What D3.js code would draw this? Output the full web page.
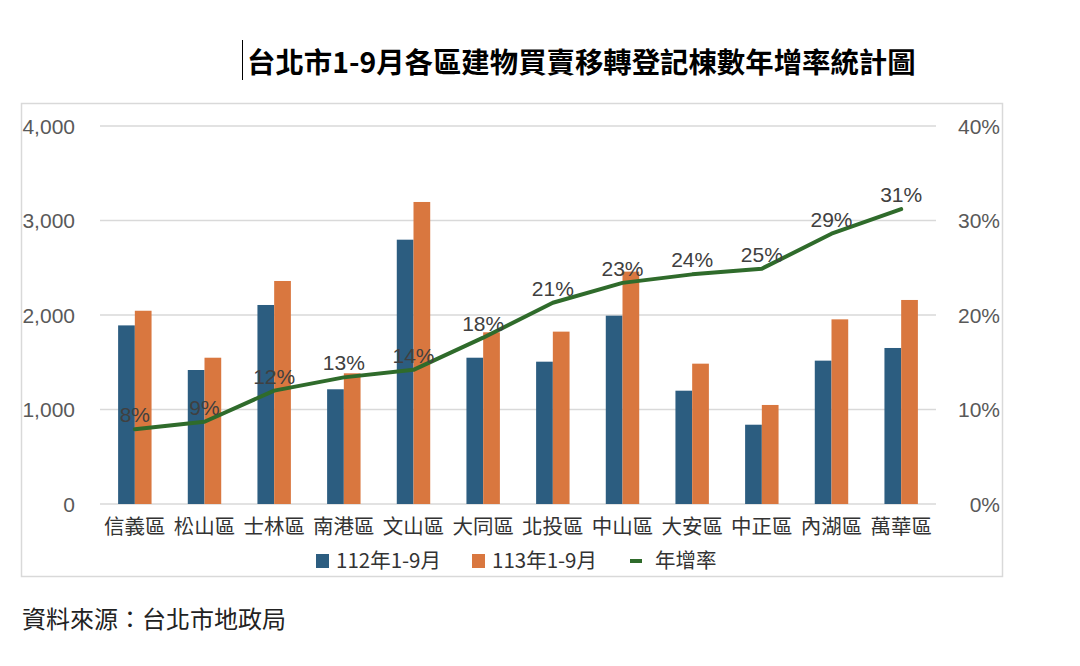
<!DOCTYPE html>
<html lang="zh-Hant">
<head>
  <meta charset="UTF-8">
  <title>台北市1-9月各區建物買賣移轉登記棟數年增率統計圖</title>
  <script src="https://d3js.org/d3.v7.min.js"></script>
  <style>
    body {
      margin: 0;
      padding: 0;
      background: #fff;
      font-family: "Noto Sans CJK TC", "Noto Sans", sans-serif;
    }
    .tick-label {
      font-family: "Liberation Sans", Arial, sans-serif;
      font-size: 21px;
      fill: #595959;
    }
    .cat-label {
      font-size: 20.5px;
      fill: #333;
    }
    .rate-label {
      font-family: "Liberation Sans", Arial, sans-serif;
      font-size: 21px;
      fill: #404040;
      text-anchor: middle;
    }
  </style>
</head>
<body>
  <svg id="chart" width="1080" height="666"></svg>

  <script>
    const districts = ["信義區", "松山區", "士林區", "南港區", "文山區", "大同區",
                       "北投區", "中山區", "大安區", "中正區", "內湖區", "萬華區"];
    const sales112 = [1890, 1418, 2106, 1214, 2797, 1548, 1506, 1993, 1199, 839, 1517, 1651];
    const sales113 = [2045, 1548, 2360, 1383, 3196, 1817, 1824, 2459, 1485, 1048, 1954, 2159];
    const growth = [7.9, 8.7, 12.0, 13.4, 14.2, 17.6, 21.3, 23.4, 24.3, 24.9, 28.6, 31.2];
    const leftTicks = [0, 1000, 2000, 3000, 4000];
    const rightTicks = [0, 10, 20, 30, 40];
    const seriesNames = ["112年1-9月", "113年1-9月", "年增率"];

    const blue = "#2c5d80";
    const orange = "#d9773f";
    const green = "#2f6b2b";

    const svg = d3.select("#chart");

    // title + the stray cursor line in front of it
    svg.append("line")
      .attr("x1", 242.5).attr("x2", 242.5)
      .attr("y1", 40).attr("y2", 80)
      .attr("stroke", "#000").attr("stroke-width", 1);
    svg.append("text")
      .attr("x", 247).attr("y", 73)
      .attr("font-size", 28.4).attr("font-weight", "bold")
      .attr("fill", "#000")
      .text("台北市1-9月各區建物買賣移轉登記棟數年增率統計圖");

    // chart frame
    svg.append("rect")
      .attr("x", 21.5).attr("y", 103.5)
      .attr("width", 981).attr("height", 473)
      .attr("fill", "none").attr("stroke", "#d9d9d9").attr("stroke-width", 1.5);

    const plotL = 100, plotR = 936, plotT = 126, plotB = 504;

    const x = d3.scaleBand().domain(districts).range([plotL, plotR]);
    const x1 = d3.scaleBand().domain([0, 1])
      .range([x.bandwidth() * 0.26, x.bandwidth() * 0.74]);
    const y = d3.scaleLinear().domain([0, 4000]).range([plotB, plotT]);
    const yr = d3.scaleLinear().domain([0, 40]).range([plotB, plotT]);

    // gridlines
    svg.append("g").selectAll("line")
      .data(leftTicks).enter().append("line")
      .attr("x1", plotL).attr("x2", plotR)
      .attr("y1", d => y(d)).attr("y2", d => y(d))
      .attr("stroke", "#d9d9d9").attr("stroke-width", 1.5);

    // axes labels
    svg.append("g").selectAll("text")
      .data(leftTicks).enter().append("text")
      .attr("class", "tick-label")
      .attr("x", 75).attr("y", d => y(d)).attr("dy", "0.36em")
      .attr("text-anchor", "end")
      .text(d => d3.format(",")(d));

    svg.append("g").selectAll("text")
      .data(rightTicks).enter().append("text")
      .attr("class", "tick-label")
      .attr("x", 1000).attr("y", d => yr(d)).attr("dy", "0.36em")
      .attr("text-anchor", "end")
      .text(d => d + "%");

    // bars
    const groups = svg.append("g").selectAll("g")
      .data(districts).enter().append("g")
      .attr("transform", d => `translate(${x(d)},0)`);

    groups.selectAll("rect")
      .data((d, i) => [sales112[i], sales113[i]])
      .enter().append("rect")
      .attr("x", (d, j) => x1(j))
      .attr("width", x1.bandwidth())
      .attr("y", d => y(d))
      .attr("height", d => plotB - y(d))
      .attr("fill", (d, j) => j === 0 ? blue : orange);

    // growth line
    const line = d3.line()
      .x((d, i) => x(districts[i]) + x.bandwidth() / 2)
      .y(d => yr(d));

    svg.append("path")
      .datum(growth)
      .attr("d", line)
      .attr("fill", "none")
      .attr("stroke", green)
      .attr("stroke-width", 4)
      .attr("stroke-linejoin", "round")
      .attr("stroke-linecap", "round");

    svg.append("g").selectAll("text")
      .data(growth).enter().append("text")
      .attr("class", "rate-label")
      .attr("x", (d, i) => x(districts[i]) + x.bandwidth() / 2)
      .attr("y", d => yr(d) - 7)
      .text(d => Math.round(d) + "%");

    // category labels
    svg.append("g").selectAll("text")
      .data(districts).enter().append("text")
      .attr("class", "cat-label")
      .attr("x", d => x(d) + x.bandwidth() / 2)
      .attr("y", 534)
      .attr("text-anchor", "middle")
      .text(d => d);

    // legend
    const legendItems = [
      { name: seriesNames[0], color: blue, kind: "rect", x: 316 },
      { name: seriesNames[1], color: orange, kind: "rect", x: 472 },
      { name: seriesNames[2], color: green, kind: "line", x: 630 }
    ];
    const lg = svg.append("g").selectAll("g")
      .data(legendItems).enter().append("g")
      .attr("transform", d => `translate(${d.x},561)`);

    lg.filter(d => d.kind === "rect").append("rect")
      .attr("x", 0).attr("y", -7)
      .attr("width", 13).attr("height", 14)
      .attr("fill", d => d.color);
    lg.filter(d => d.kind === "line").append("line")
      .attr("x1", 0).attr("x2", 12)
      .attr("y1", 0).attr("y2", 0)
      .attr("stroke", d => d.color).attr("stroke-width", 4);
    lg.append("text")
      .attr("class", "cat-label")
      .attr("x", d => d.kind === "rect" ? 20 : 25)
      .attr("y", 0).attr("dy", "0.36em")
      .text(d => d.name);

    // source
    svg.append("text")
      .attr("x", 22).attr("y", 628)
      .attr("font-size", 24).attr("fill", "#222")
      .text("資料來源：台北市地政局");
  </script>
</body>
</html>
